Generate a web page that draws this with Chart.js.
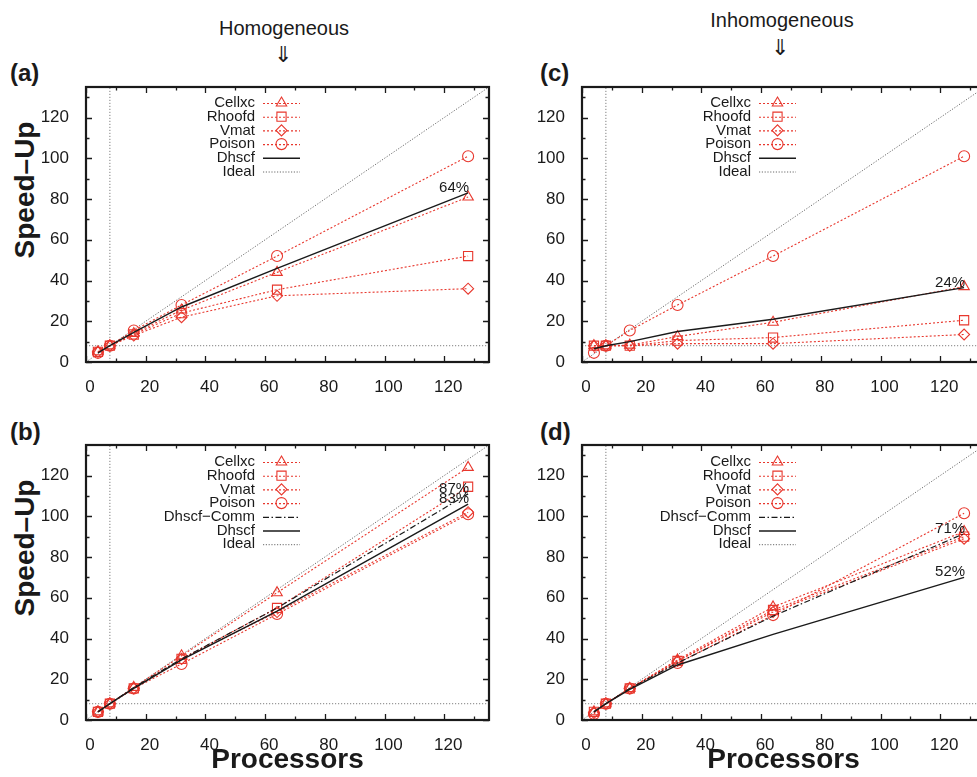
<!DOCTYPE html>
<html><head><meta charset="utf-8">
<script src="https://cdn.jsdelivr.net/npm/chart.js@4.4.1/dist/chart.umd.min.js"></script>
<style>
html,body{margin:0;padding:0;background:#fff;}
body{width:977px;height:777px;overflow:hidden;position:relative;font-family:'Liberation Sans',Arial,sans-serif;color:#1a1a1a;}
canvas{position:absolute;}
.plbl{position:absolute;font-weight:bold;font-size:24px;line-height:24px;}
.head{position:absolute;font-size:20px;line-height:20px;text-align:center;width:220px;}
.arrow{position:absolute;font-size:22px;line-height:22px;text-align:center;width:40px;font-family:'DejaVu Sans',sans-serif;font-weight:300;}
.ytitle{position:absolute;font-weight:bold;font-size:28px;line-height:30px;width:200px;text-align:center;transform:rotate(-90deg);}
</style></head><body>
<div class="head" style="left:174px;top:18px">Homogeneous</div>
<div class="arrow" style="left:263px;top:44px">⇓</div>
<div class="head" style="left:672px;top:10px">Inhomogeneous</div>
<div class="arrow" style="left:760px;top:37px">⇓</div>
<div class="plbl" style="left:10px;top:61px">(a)</div>
<div class="plbl" style="left:540px;top:61px">(c)</div>
<div class="plbl" style="left:10px;top:420px">(b)</div>
<div class="plbl" style="left:540px;top:420px">(d)</div>
<div class="ytitle" style="left:-75px;top:175px">Speed–Up</div>
<div class="ytitle" style="left:-75px;top:533px">Speed–Up</div>
<canvas id="ca" width="500" height="360" style="left:0px;top:40px"></canvas>
<canvas id="cc" width="500" height="360" style="left:496px;top:40px"></canvas>
<canvas id="cb" width="500" height="377" style="left:0px;top:400px"></canvas>
<canvas id="cd" width="500" height="377" style="left:496px;top:400px"></canvas>
<script>
// ---------------- data ----------------
const processors = [4, 8, 16, 32, 64, 128];
const axisRange = [0, 135];
const refLevel = 8;
const xTickLabels = [0, 20, 40, 60, 80, 100, 120];
const yTickLabels = [0, 20, 40, 60, 80, 100, 120];
const seriesNames = ['Cellxc', 'Rhoofd', 'Vmat', 'Poison'];

// (a) homogeneous
const aCellxc = [5, 8, 14, 25.5, 44, 81];
const aRhoofd = [5, 8, 13.5, 24, 35.5, 52];
const aVmat   = [5, 8, 13, 22, 32.5, 36];
const aPoison = [4.5, 8, 15.5, 28, 52, 101];
const aDhscf  = [4.5, 8, 14.5, 27, 46, 83];
const aPct    = {Dhscf: '64%'};

// (c) inhomogeneous
const cCellxc = [8, 8, 8.3, 12.5, 19.5, 37];
const cRhoofd = [8, 8, 8, 10.5, 12, 20.5];
const cVmat   = [8, 8, 8, 9, 9, 13.5];
const cPoison = [4.5, 8, 15.5, 28, 52, 101];
const cDhscf  = [6.5, 8, 10, 15, 21, 36.5];
const cPct    = {Dhscf: '24%'};

// (b) homogeneous, with communication
const bCellxc = [4, 8, 16, 31.5, 62.5, 124];
const bRhoofd = [4, 8, 15.5, 30, 55, 114.5];
const bVmat   = [4, 8, 15.5, 30, 53, 102];
const bPoison = [4, 8, 15.5, 27.5, 52, 101];
const bComm   = [4, 8, 16, 30, 55, 111];
const bDhscf  = [4, 8, 15.5, 29.5, 53.5, 106];
const bPct    = {'Dhscf−Comm': '87%', Dhscf: '83%'};

// (d) inhomogeneous, with communication
const dCellxc = [4, 8, 15.5, 29.5, 55.5, 92.5];
const dRhoofd = [4, 8, 15.5, 29, 54, 90];
const dVmat   = [3.5, 8, 15.5, 29, 53, 89];
const dPoison = [3, 8, 15.5, 28, 51.5, 101.5];
const dComm   = [4, 8, 15.5, 28, 51, 91.5];
const dDhscf  = [4, 8, 15, 27, 42, 70];
const dPct    = {'Dhscf−Comm': '71%', Dhscf: '52%'};

// ---------------- styles ----------------
const RED = 'rgb(232,55,45)';
const INK = '#1a1a1a';
const markers = [
  {pointStyle: 'triangle', r: 6},
  {pointStyle: 'rect', r: 6.5},
  {pointStyle: 'rectRot', r: 5.5},
  {pointStyle: 'circle', r: 5.5}
];
const FONT = "'Liberation Sans', Arial, sans-serif";

function pts(vals) { return processors.map((p, i) => ({x: p, y: vals[i]})); }

function buildDatasets(series, comm, dhscf) {
  const ds = [];
  ds.push({label: '', data: [{x: axisRange[0], y: refLevel}, {x: axisRange[1], y: refLevel}],
    borderColor: '#808080', borderWidth: 1, borderDash: [1.2, 1.8], pointRadius: 0, order: 9});
  ds.push({label: '', data: [{x: refLevel, y: axisRange[0]}, {x: refLevel, y: axisRange[1]}],
    borderColor: '#808080', borderWidth: 1, borderDash: [1.2, 1.8], pointRadius: 0, order: 9});
  series.forEach((vals, i) => {
    ds.push({label: seriesNames[i], data: pts(vals), borderColor: RED, borderWidth: 1.1, borderDash: [2, 2],
      pointStyle: markers[i].pointStyle, pointRadius: markers[i].r, pointHoverRadius: markers[i].r,
      pointBorderColor: RED, pointBackgroundColor: 'rgba(0,0,0,0)', pointBorderWidth: 1.1, order: 3,
      legendKind: 'marker'});
  });
  if (comm) {
    ds.push({label: 'Dhscf−Comm', data: pts(comm), borderColor: INK, borderWidth: 1.2, borderDash: [6, 2.5, 1.5, 2.5],
      pointRadius: 0, order: 2, legendKind: 'dashdot'});
  }
  ds.push({label: 'Dhscf', data: pts(dhscf), borderColor: INK, borderWidth: 1.4, pointRadius: 0, order: 1, legendKind: 'solid'});
  ds.push({label: 'Ideal', data: [{x: axisRange[0], y: axisRange[0]}, {x: axisRange[1], y: axisRange[1]}],
    borderColor: '#6a6a6a', borderWidth: 1, borderDash: [1.2, 1.6], pointRadius: 0, order: 8, legendKind: 'ideal'});
  return ds;
}

// frame, inward ticks, legend, percentage labels
const decorPlugin = {
  id: 'decor',
  afterDatasetsDraw(chart, args, opts) {
    const ctx = chart.ctx;
    const a = chart.chartArea;
    const xs = chart.scales.x, ys = chart.scales.y;
    ctx.save();
    ctx.setLineDash([]);
    ctx.strokeStyle = INK;
    ctx.lineWidth = 1.3;
    xs.ticks.forEach(t => {
      const px = Math.round(xs.getPixelForValue(t.value)) + 0.5;
      const len = (t.value % 20 === 0) ? 6 : 3.5;
      ctx.beginPath();
      ctx.moveTo(px, a.bottom); ctx.lineTo(px, a.bottom - len);
      ctx.moveTo(px, a.top); ctx.lineTo(px, a.top + len);
      ctx.stroke();
    });
    ys.ticks.forEach(t => {
      const py = Math.round(ys.getPixelForValue(t.value)) + 0.5;
      const len = (t.value % 20 === 0) ? 6 : 3.5;
      ctx.beginPath();
      ctx.moveTo(a.left, py); ctx.lineTo(a.left + len, py);
      ctx.moveTo(a.right, py); ctx.lineTo(a.right - len, py);
      ctx.stroke();
    });
    ctx.lineWidth = 2.2;
    ctx.strokeRect(a.left, a.top, a.right - a.left, a.bottom - a.top);

    // legend
    const order = [];
    chart.data.datasets.forEach(d => { if (d.legendKind && d.legendKind !== 'ideal') order.push(d); });
    chart.data.datasets.forEach(d => { if (d.legendKind === 'ideal') order.push(d); });
    ctx.font = '15px ' + FONT;
    ctx.textAlign = 'right';
    ctx.textBaseline = 'middle';
    const textRight = a.left + 169, l0 = a.left + 177, l1 = a.left + 214, mid = (l0 + l1) / 2;
    order.forEach((d, i) => {
      const y = a.top + opts.legendTop + i * 13.7;
      ctx.fillStyle = INK;
      ctx.fillText(d.label, textRight, y);
      ctx.beginPath();
      ctx.strokeStyle = d.borderColor;
      ctx.lineWidth = d.borderWidth;
      ctx.setLineDash(d.borderDash || []);
      ctx.moveTo(l0, y + 0.5); ctx.lineTo(l1, y + 0.5);
      ctx.stroke();
      ctx.setLineDash([]);
      if (d.legendKind === 'marker') {
        ctx.strokeStyle = RED;
        ctx.fillStyle = 'rgba(0,0,0,0)';
        ctx.lineWidth = 1.1;
        Chart.helpers.drawPoint(ctx, {pointStyle: d.pointStyle, radius: d.pointRadius, rotation: 0, borderWidth: 1.1}, mid, y);
      }
    });

    // percentage labels at the end of the Dhscf curves
    ctx.font = '15px ' + FONT;
    ctx.fillStyle = INK;
    ctx.textAlign = 'right';
    ctx.textBaseline = 'alphabetic';
    chart.data.datasets.forEach(d => {
      const txt = opts.pct[d.label];
      if (!txt) return;
      const last = d.data[d.data.length - 1];
      ctx.fillText(txt, xs.getPixelForValue(last.x) + 1, ys.getPixelForValue(last.y) - 1);
    });
    ctx.restore();
  }
};

function makePanel(id, datasets, pct, opts) {
  const tickFont = {family: FONT, size: 17};
  new Chart(document.getElementById(id), {
    type: 'line',
    data: {datasets},
    plugins: [decorPlugin],
    options: {
      responsive: false,
      animation: false,
      devicePixelRatio: 1,
      layout: {padding: {left: 0, right: 11, top: opts.padTop, bottom: 0}},
      plugins: {legend: {display: false}, tooltip: {enabled: false},
        decor: {pct, legendTop: opts.legendTop}},
      elements: {line: {tension: 0}},
      scales: {
        x: {
          type: 'linear', min: axisRange[0], max: axisRange[1],
          grid: {display: false}, border: {display: false},
          afterFit: s => { s.height = opts.xh; },
          ticks: {stepSize: 10, includeBounds: false, autoSkip: false, maxRotation: 0, padding: 7, labelOffset: 4,
            color: INK, font: tickFont,
            callback: v => xTickLabels.includes(v) ? String(v) : ''},
          title: {display: !!opts.xTitle, text: opts.xTitle || '', color: INK,
            font: {family: FONT, size: 28, weight: 'bold'}, padding: {top: 0, bottom: 0}}
        },
        y: {
          type: 'linear', min: axisRange[0], max: axisRange[1],
          grid: {display: false}, border: {display: false},
          afterFit: s => { s.width = 86; },
          ticks: {stepSize: 10, includeBounds: false, autoSkip: false, padding: 9,
            color: INK, font: tickFont,
            callback: v => yTickLabels.includes(v) ? String(v) : ''}
        }
      }
    }
  });
}

makePanel('ca', buildDatasets([aCellxc, aRhoofd, aVmat, aPoison], null, aDhscf), aPct,
  {padTop: 47, xh: 38, legendTop: 16});
makePanel('cc', buildDatasets([cCellxc, cRhoofd, cVmat, cPoison], null, cDhscf), cPct,
  {padTop: 47, xh: 38, legendTop: 16});
makePanel('cb', buildDatasets([bCellxc, bRhoofd, bVmat, bPoison], bComm, bDhscf), bPct,
  {padTop: 45, xh: 57, xTitle: 'Processors', legendTop: 17});
makePanel('cd', buildDatasets([dCellxc, dRhoofd, dVmat, dPoison], dComm, dDhscf), dPct,
  {padTop: 45, xh: 57, xTitle: 'Processors', legendTop: 17});
</script>
</body></html>
